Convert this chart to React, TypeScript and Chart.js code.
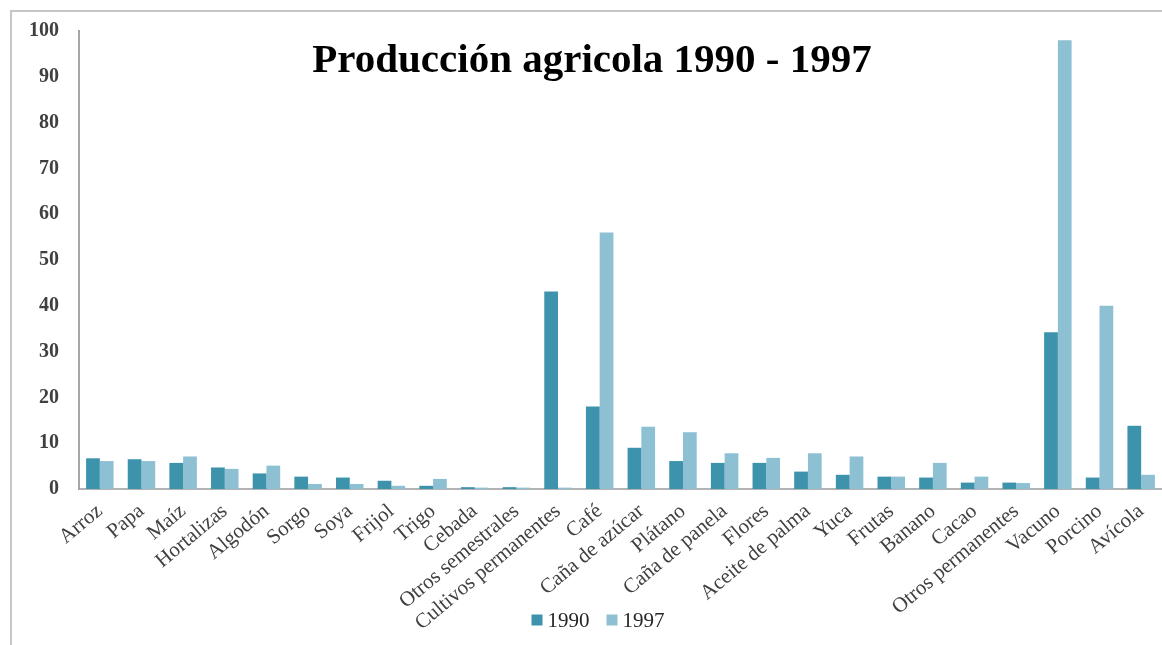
import React, { useEffect, useRef } from "react";
import { Chart, registerables } from "chart.js";

Chart.register(...registerables);

const TITLE = "Producción agricola 1990 - 1997";

const categories = [
  "Arroz",
  "Papa",
  "Maíz",
  "Hortalizas",
  "Algodón",
  "Sorgo",
  "Soya",
  "Frijol",
  "Trigo",
  "Cebada",
  "Otros semestrales",
  "Cultivos permanentes",
  "Café",
  "Caña de azúcar",
  "Plátano",
  "Caña de panela",
  "Flores",
  "Aceite de palma",
  "Yuca",
  "Frutas",
  "Banano",
  "Cacao",
  "Otros permanentes",
  "Vacuno",
  "Porcino",
  "Avícola",
];

const values1990 = [
  6.7, 6.5, 5.7, 4.7, 3.4, 2.7, 2.5, 1.8, 0.7, 0.4, 0.4, 43.1, 18.0, 9.0, 6.1,
  5.7, 5.7, 3.8, 3.1, 2.7, 2.5, 1.4, 1.4, 34.2, 2.5, 13.8,
];

const values1997 = [
  6.1, 6.1, 7.1, 4.4, 5.1, 1.1, 1.1, 0.7, 2.2, 0.3, 0.3, 0.3, 56.0, 13.6, 12.4,
  7.8, 6.8, 7.8, 7.1, 2.7, 5.7, 2.7, 1.3, 98.0, 40.0, 3.1,
];

const seriesNames = ["1990", "1997"];
const seriesColors = ["#3d93ac", "#8ec0d4"];
const Y_MIN = 0;
const Y_MAX = 100;
const Y_STEP = 10;

const SERIF = '"Liberation Serif", "Times New Roman", serif';

const titlePlugin = {
  id: "customTitle",
  afterDraw(chart: any) {
    const ctx = chart.ctx;
    ctx.save();
    ctx.font = `bold 41px ${SERIF}`;
    ctx.fillStyle = "#000000";
    ctx.textAlign = "center";
    ctx.textBaseline = "alphabetic";
    ctx.fillText(TITLE, 580, 60);
    ctx.restore();
  },
};

const legendPlugin = {
  id: "customLegend",
  afterDraw(chart: any) {
    const ctx = chart.ctx;
    const datasets = chart.data.datasets;
    ctx.save();
    ctx.font = `21px ${SERIF}`;
    ctx.textBaseline = "middle";
    ctx.textAlign = "left";
    const box = 11;
    const gapBoxText = 5;
    const gapItems = 17;
    const widths = datasets.map(
      (d: any) => box + gapBoxText + ctx.measureText(d.label).width
    );
    const total =
      widths.reduce((a: number, b: number) => a + b, 0) +
      gapItems * (datasets.length - 1);
    const centerX = 586;
    const centerY = 608;
    let x = centerX - total / 2;
    datasets.forEach((d: any, i: number) => {
      ctx.fillStyle = d.backgroundColor;
      ctx.fillRect(x, centerY - box / 2, box, box);
      ctx.fillStyle = "#262626";
      ctx.fillText(d.label, x + box + gapBoxText, centerY + 1);
      x += widths[i] + gapItems;
    });
    ctx.restore();
  },
};

export default function App() {
  const canvasRef = useRef<HTMLCanvasElement | null>(null);

  useEffect(() => {
    if (!canvasRef.current) return;
    const chart = new Chart(canvasRef.current, {
      type: "bar",
      data: {
        labels: categories,
        datasets: [
          {
            label: seriesNames[0],
            data: values1990,
            backgroundColor: seriesColors[0],
            borderWidth: 0,
            barPercentage: 1,
            categoryPercentage: 0.66,
          },
          {
            label: seriesNames[1],
            data: values1997,
            backgroundColor: seriesColors[1],
            borderWidth: 0,
            barPercentage: 1,
            categoryPercentage: 0.66,
          },
        ],
      },
      options: {
        responsive: false,
        animation: false,
        devicePixelRatio: 1,
        layout: { padding: { top: 19, left: 0, right: 0, bottom: 0 } },
        plugins: {
          title: { display: false },
          tooltip: { enabled: false },
          legend: { display: false },
        },
        scales: {
          x: {
            offset: true,
            grid: { display: false, drawTicks: false },
            border: { display: true, color: "#b3b3b3", width: 2 },
            ticks: {
              autoSkip: false,
              minRotation: 40,
              maxRotation: 40,
              padding: 10,
              color: "#404040",
              font: { family: SERIF, size: 21 },
            },
            afterFit(scale: any) {
              scale.height = 156;
              scale.paddingRight = 0;
            },
          },
          y: {
            min: Y_MIN,
            max: Y_MAX,
            grid: { display: false, drawTicks: false },
            border: { display: true, color: "#a6a6a6", width: 2 },
            ticks: {
              stepSize: Y_STEP,
              padding: 20,
              color: "#404040",
              font: { family: SERIF, size: 20, weight: "bold" },
            },
            afterFit(scale: any) {
              scale.width = 67;
              scale.paddingTop = 12;
              scale.paddingBottom = 12;
            },
          },
        },
      },
      plugins: [titlePlugin, legendPlugin],
    } as any);
    return () => chart.destroy();
  }, []);

  return (
    <div
      style={{
        position: "absolute",
        left: 10,
        top: 10,
        width: 1150,
        height: 633,
        borderLeft: "2px solid #c6c6c6",
        borderTop: "2px solid #c6c6c6",
        background: "#ffffff",
        overflow: "hidden",
      }}
    >
      <canvas
        ref={canvasRef}
        width={1150}
        height={633}
        style={{ display: "block", width: 1150, height: 633 }}
      />
    </div>
  );
}
